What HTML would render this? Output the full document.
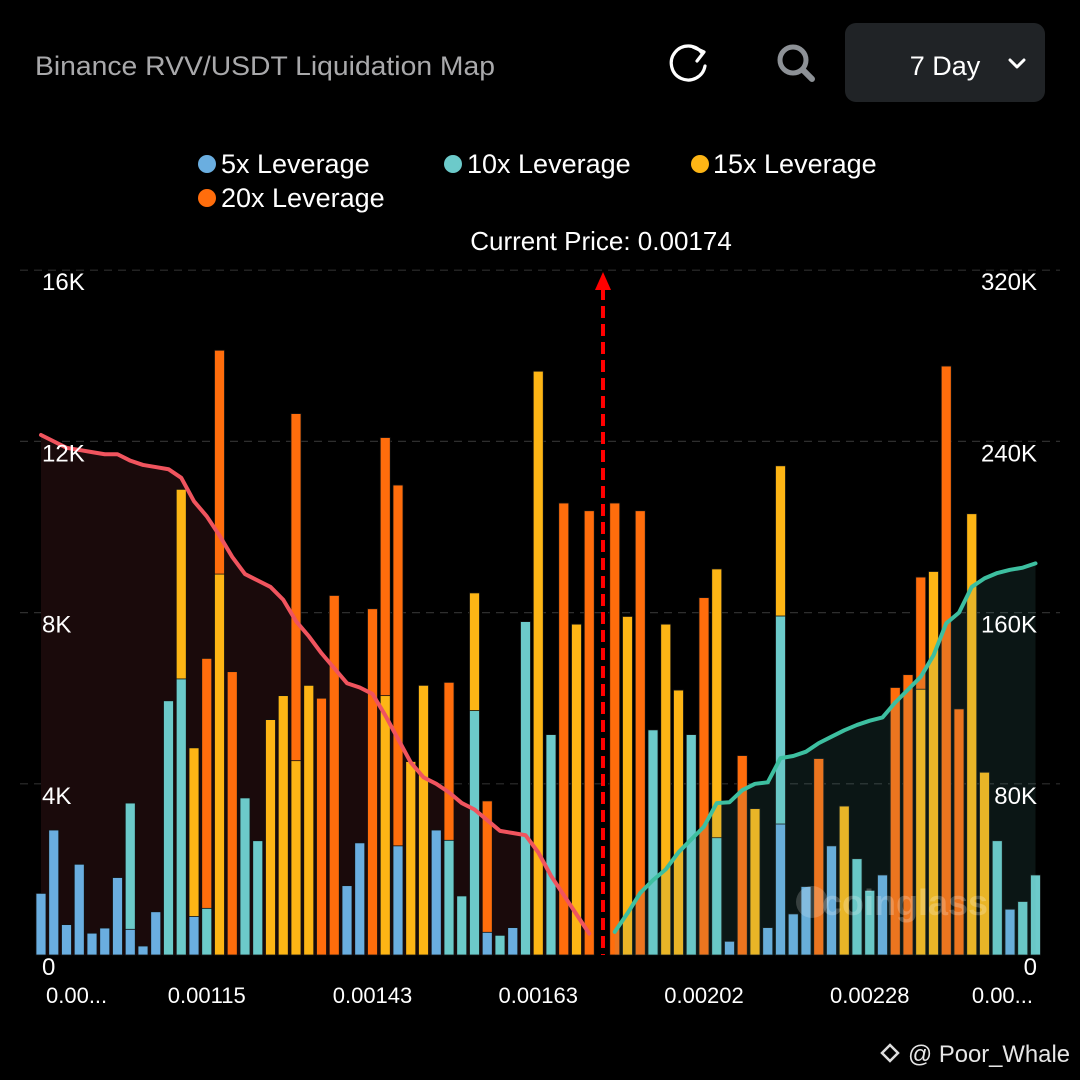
<!DOCTYPE html>
<html><head><meta charset="utf-8">
<style>
html,body{margin:0;padding:0;background:#000;}
body{width:1080px;height:1080px;overflow:hidden;font-family:"Liberation Sans",sans-serif;}
svg{display:block}
</style></head>
<body>
<svg id="chart" width="1080" height="1080" viewBox="0 0 1080 1080">
  <rect x="0" y="0" width="1080" height="1080" fill="#000"/>
  <text x="35" y="75" font-size="27" fill="#a9a9ab" textLength="460" lengthAdjust="spacingAndGlyphs">Binance RVV/USDT Liquidation Map</text>
  <g>
    <path d="M702 53 A17 17 0 1 0 705 66" fill="none" stroke="#fff" stroke-width="3.2" stroke-linecap="round"/>
    <path d="M693 47 L704 52 L697 61" fill="none" stroke="#fff" stroke-width="3.2" stroke-linecap="round" stroke-linejoin="round"/>
  </g>
  <g>
    <circle cx="793" cy="60" r="13" fill="none" stroke="#8d9196" stroke-width="5"/>
    <line x1="803" y1="70" x2="812" y2="79" stroke="#8d9196" stroke-width="6" stroke-linecap="round"/>
  </g>
  <g>
    <rect x="845" y="23" width="200" height="79" rx="11" fill="#202326"/>
    <text x="945" y="75" font-size="27" fill="#fff" text-anchor="middle">7 Day</text>
    <path d="M1010 60 L1017 67 L1024 60" fill="none" stroke="#fff" stroke-width="3" stroke-linecap="round" stroke-linejoin="round"/>
  </g>
  <g font-size="27" fill="#fff">
    <g><circle cx="207" cy="164" r="9" fill="#6aaee0"/><text x="221" y="173">5x Leverage</text></g>
    <g><circle cx="453" cy="164" r="9" fill="#6ccaca"/><text x="467" y="173">10x Leverage</text></g>
    <g><circle cx="700" cy="164" r="9" fill="#fdb515"/><text x="713" y="173">15x Leverage</text></g>
    <g><circle cx="207" cy="198" r="9" fill="#ff6d0c"/><text x="221" y="207">20x Leverage</text></g>
  </g>
  <text x="601" y="250" font-size="26" fill="#fff" text-anchor="middle">Current Price: 0.00174</text>
  <g id="grid"></g>
  <g id="fillL"></g>
  <g id="bars"></g>
  <g id="fillR"></g>
  <g id="lines"></g>
  <g id="axes"></g>
  <g>
    <line x1="603" y1="288" x2="603" y2="955" stroke="#f00" stroke-width="4" stroke-dasharray="12 6"/>
    <path d="M595 290 L603 272 L611 290 Z" fill="#f00"/>
  </g>
  <text x="905" y="915" font-size="36" font-weight="bold" fill="#fff" fill-opacity="0.22" text-anchor="middle">coinglass</text>
  <circle cx="812" cy="902" r="16" fill="#fff" fill-opacity="0.18"/>
  <g>
    <path d="M890 1045 L898 1053 L890 1061 L882 1053 Z" fill="none" stroke="#ddd" stroke-width="2.5"/>
    <text x="908" y="1062" font-size="24" fill="#e6e6e6" textLength="162" lengthAdjust="spacingAndGlyphs">@ Poor_Whale</text>
  </g>
</svg>
<script>
const lev5  = [1.44,2.92,.71,2.12,.51,.63,1.81,.6,.21,1.01,0,0,.9,0,0,0,0,0,0,0,0,0,0,0,1.62,2.62,0,0,2.55,0,0,2.92,0,0,0,.53,0,.64,0,0,0,0,0,0, 0, 0,0,0,0,0,0,0,0,0,.32,0,0,.64,3.06,.96,1.6,0,2.55,0,0,0,1.87,0,0,0,0,0,0,0,0,0,1.07,0,0];
const lev10 = [0,0,0,0,0,0,0,3.55,0,0,5.94,6.45,0,1.09,0,0,3.67,2.67,0,0,0,0,0,0,0,0,0,0,0,0,0,0,2.68,1.38,5.71,0,.46,0,7.79,0,5.15,0,0,0, 0, 0,0,0,5.26,0,0,5.15,0,2.74,0,0,0,0,7.92,0,0,0,0,0,2.25,1.51,0,0,0,0,0,0,0,0,0,2.67,0,1.25,1.87];
const lev15 = [0,0,0,0,0,0,0,0,0,0,0,10.88,4.84,0,8.9,0,0,0,5.5,6.06,4.54,6.3,0,0,0,0,0,6.06,0,4.52,6.3,0,0,0,8.46,0,0,0,0,13.64,0,0,7.73,0, 0, 0,7.91,0,0,7.73,6.19,0,0,9.02,0,0,3.42,0,11.43,0,0,0,0,3.48,0,0,0,0,0,6.21,8.96,0,0,10.31,4.27,0,0,0,0];
const lev20 = [0,0,0,0,0,0,0,0,0,0,0,0,0,6.93,14.13,6.62,0,0,0,0,12.65,0,6.0,8.4,0,0,8.09,12.09,10.98,0,0,0,6.37,0,0,3.6,0,0,0,0,0,10.56,0,10.38, 0, 10.56,0,10.38,0,0,0,0,8.35,0,0,4.66,0,0,0,0,0,4.59,0,0,0,0,0,6.25,6.55,8.83,0,13.76,5.75,0,0,0,0,0,0];
const shortCum = [243,240,237,236,235,234,234,231,229,228,227,223,212,205,196,186,178,175,172,166,156,149,141,134,127,125,122,112,101,90,83,80,76,71,68,63,58,57,56,48,37,28,19,10];
const longCum = [10.8,19.5,29,35,40,48,54,60,71,71.4,77,80,80.7,92,93,95,99,102,105,107.5,109.5,111,118,124,130,140,155,160,172,176,178.5,180,181,183];
const longStart = 45;
const leftTicks = ["0","4K","8K","12K","16K"];
const leftTickVals = [0,4,8,12,16];
const rightTicks = ["0","80K","160K","240K","320K"];
const xTickLabels = ["0.00...","0.00115","0.00143","0.00163","0.00202","0.00228","0.00..."];
const xTickSlots = [3,13,26,39,52,65,76];

const NS="http://www.w3.org/2000/svg";
const base=955, pxPerK=42.8, x0=41, step=12.75, bw=10;
function xs(i){return x0+step*i;}
function yl(v){return base-v*pxPerK;}
function yr(v){return base-(v/20)*pxPerK;}
function mk(tag,attrs,parent){const e=document.createElementNS(NS,tag);for(const k in attrs)e.setAttribute(k,attrs[k]);parent.appendChild(e);return e;}

const grid=document.getElementById('grid'), axes=document.getElementById('axes');
leftTickVals.forEach((v,k)=>{
  if(v>0){const l=mk('line',{x1:20,x2:1060,y1:yl(v),y2:yl(v),stroke:'#2e2e2e','stroke-width':1.2,'stroke-dasharray':'8 6'},grid);
  
  }
  const t=mk('text',{x:42,y:yl(v)+20,'font-size':24,fill:'#fff'},axes);t.textContent=leftTicks[k];
  
  
  const r=mk('text',{x:1037,y:yl(v)+20,'font-size':24,fill:'#fff','text-anchor':'end'},axes);r.textContent=rightTicks[k];
  
  
});
xTickLabels.forEach((s,k)=>{
  const first=k===0,last=k===xTickLabels.length-1;
  const t=mk('text',{x:first?46:last?1033:xs(xTickSlots[k]),y:1003,'font-size':22,fill:'#fff','text-anchor':first?'start':last?'end':'middle'},axes);
  t.textContent=s;
  
  
});

let dL='M'+xs(0)+' '+base;
shortCum.forEach((v,i)=>{dL+=' L'+xs(i)+' '+yr(v);});
dL+=' L'+xs(shortCum.length-1)+' '+base+' Z';
const fl=mk('path',{d:dL,fill:'#1a0a0b'},document.getElementById('fillL'));



const barsG=document.getElementById('bars');
const cols=['#6aaee0','#6ccaca','#fdb515','#ff6d0c'];
const series=[lev5,lev10,lev15,lev20];
for(let i=0;i<lev5.length;i++){
  const segs=series.map((s,k)=>({v:s[i],c:cols[k]})).filter(o=>o.v>0).sort((a,b)=>b.v-a.v);
  segs.forEach(o=>{
    const r=mk('rect',{x:xs(i)-bw/2,y:yl(o.v),width:bw,height:base-yl(o.v),fill:o.c,stroke:'#111','stroke-width':0.8},barsG);
    
    
  });
}

let dR='M'+xs(longStart)+' '+base;
longCum.forEach((v,j)=>{dR+=' L'+xs(longStart+j)+' '+yr(v);});
dR+=' L'+xs(longStart+longCum.length-1)+' '+base+' Z';
const fr=mk('path',{d:dR,fill:'rgb(92,183,175)','fill-opacity':0.12},document.getElementById('fillR'));



const linesG=document.getElementById('lines');
let pL=shortCum.map((v,i)=>xs(i)+','+yr(v)).join(' ');
const ll=mk('polyline',{points:pL,fill:'none',stroke:'#f0545e','stroke-width':4,'stroke-linejoin':'round','stroke-linecap':'round'},linesG);


let pR=longCum.map((v,j)=>xs(longStart+j)+','+yr(v)).join(' ');
const lr=mk('polyline',{points:pR,fill:'none',stroke:'#3dbfa0','stroke-width':4,'stroke-linejoin':'round','stroke-linecap':'round'},linesG);


</script>
</body></html>
